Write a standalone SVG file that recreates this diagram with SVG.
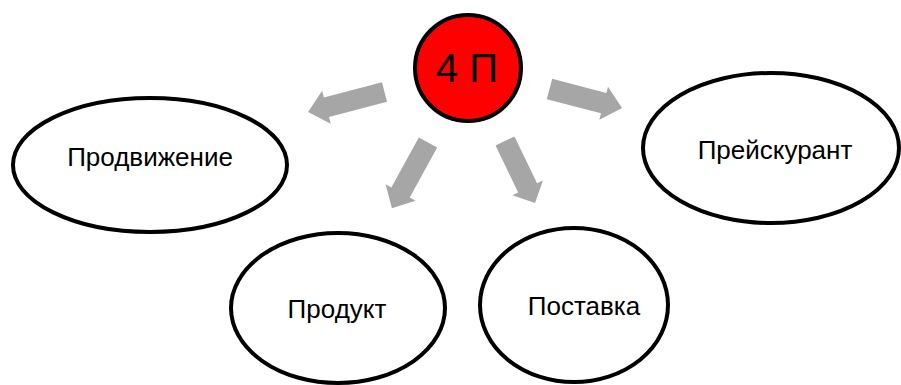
<svg xmlns="http://www.w3.org/2000/svg" width="901" height="385" viewBox="0 0 901 385">
<style>
.n{fill:#fff;stroke:#000;stroke-width:4}
.c{fill:#ff0000;stroke:#000;stroke-width:4}
.t{font-family:"Liberation Sans",Arial,sans-serif;font-size:26px;fill:#000;text-anchor:middle}
.a{fill:#a6a6a6}
</style>
<rect width="901" height="385" fill="#fff"/>
<g id="connectors">
<polygon class="a" transform="translate(384.5,92) rotate(165.3)" points="0,-10 60,-10 60,-17 79,0 60,17 60,10 0,10"/>
<polygon class="a" transform="translate(549.5,89) rotate(14.7)" points="0,-10.5 56,-10.5 56,-17 75,0 56,17 56,10.5 0,10.5"/>
<polygon class="a" transform="translate(428,142.5) rotate(118.8)" points="0,-10.5 57,-10.5 57,-17 75,0 57,17 57,10.5 0,10.5"/>
<polygon class="a" transform="translate(505,141) rotate(64.2)" points="0,-10.5 52,-10.5 52,-17 69,0 52,17 52,10.5 0,10.5"/>
</g>
<g id="center">
<circle class="c" cx="468" cy="68" r="53"/>
<text class="t" x="467" y="82" style="font-size:40px">4 П</text>
</g>
<g id="prodvizhenie">
<ellipse class="n" cx="150" cy="165" rx="137" ry="67"/>
<text class="t" x="150" y="166">Продвижение</text>
</g>
<g id="preiskurant">
<ellipse class="n" cx="771" cy="148" rx="128" ry="75"/>
<text class="t" x="775" y="159">Прейскурант</text>
</g>
<g id="produkt">
<ellipse class="n" cx="338" cy="308" rx="107" ry="75"/>
<text class="t" x="337" y="318">Продукт</text>
</g>
<g id="postavka">
<ellipse class="n" cx="574" cy="305" rx="94" ry="77"/>
<text class="t" x="584" y="315">Поставка</text>
</g>
</svg>
